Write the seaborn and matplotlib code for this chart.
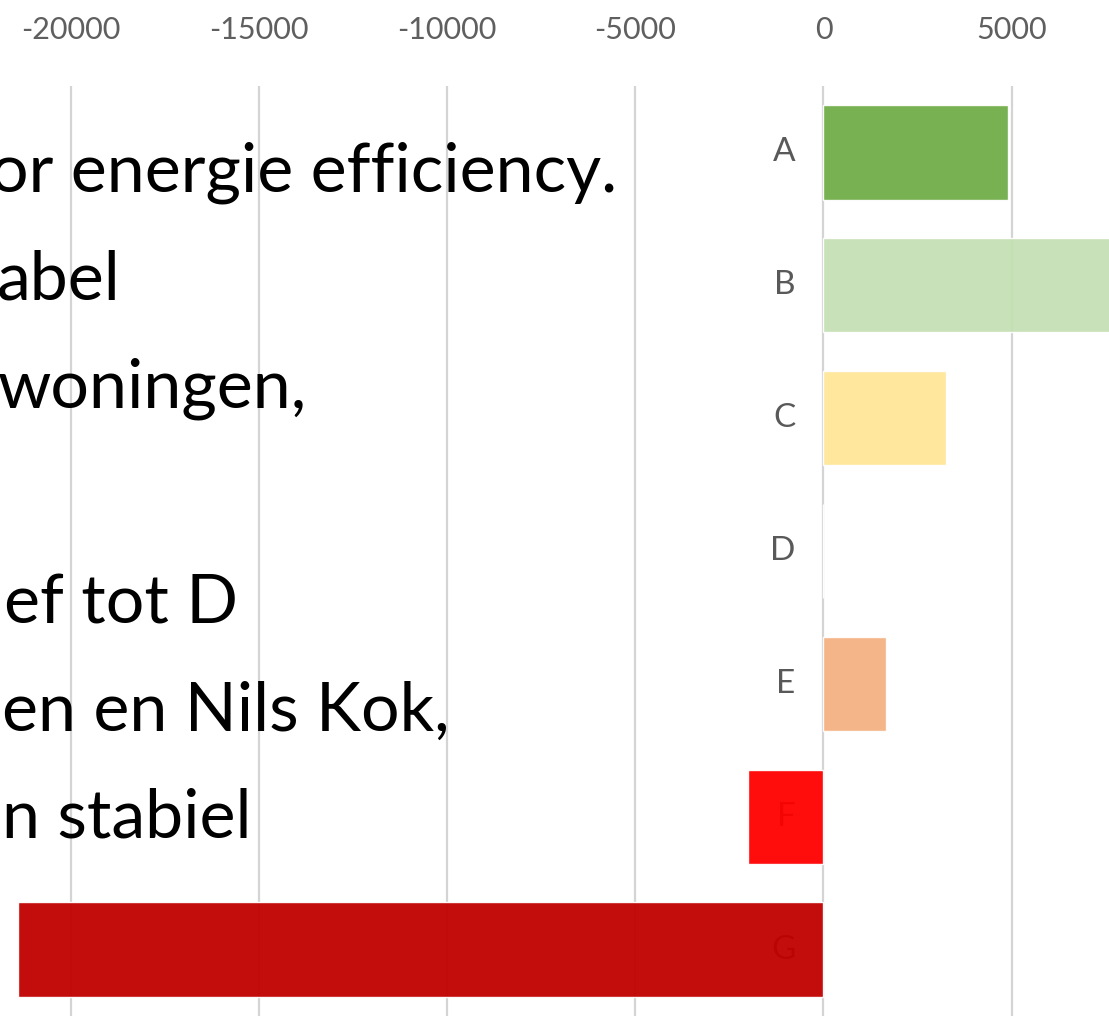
import matplotlib
matplotlib.use("Agg")
import matplotlib.pyplot as plt
from matplotlib import font_manager
import pandas as pd
import seaborn as sns

# Change in number of dwellings per energy label
labels = ["A", "B", "C", "D", "E", "F", "G"]
change = [4900, 8600, 3250, 0, 1650, -2000, -21400]
bar_colors = ["#70AD47", "#C5E0B4", "#FFE699", "#FFD966", "#F4B183", "#FF0000", "#C00000"]

tick_values = [-20000, -15000, -10000, -5000, 0, 5000]
tick_labels = ["-20000", "-15000", "-10000", "-5000", "0", "5000"]

# Slide text lying over the chart (left side runs off the slide)
slide_lines = ["or energie efficiency.", "abel", "woningen,", "ef tot D", "en en Nils Kok,", "n stabiel"]
line_x_px = [-10, -3, -2, 4, 2, 2]
line_base_px = [192, 300, 408, 623, 731, 838]

sns.set_theme(style="white")
installed = {f.name for f in font_manager.fontManager.ttflist}
narrow = "Liberation Sans Narrow" in installed
base_family = "Liberation Sans Narrow" if narrow else "Lato"
plt.rcParams["font.family"] = [base_family, "DejaVu Sans"]
plt.rcParams["axes.unicode_minus"] = False

W, H = 1109, 1016
fig = plt.figure(figsize=(W / 100, H / 100), dpi=100)
fig.patch.set_facecolor("white")
top_px = 86
ax = fig.add_axes([0, 0, 1, (H - top_px) / H])
ax.set_facecolor("white")

df = pd.DataFrame({"label": labels, "change": change})
sns.barplot(data=df, x="change", y="label", hue="label", palette=bar_colors,
            orient="h", width=0.71, saturation=1, legend=False, alpha=0.95,
            zorder=2, ax=ax)

ax.set_xlim(-21890, 7590)
ax.set_ylim(6.5, -0.5)

ax.xaxis.tick_top()
ax.set_xticks(tick_values, tick_labels)
ax.tick_params(axis="x", length=0, pad=30, labelsize=22, labelcolor="#5f5f5f",
               top=True, labeltop=True, bottom=False, labelbottom=False)
ax.set_yticks([])
ax.set_xlabel("")
ax.set_ylabel("")
ax.set_axisbelow(True)
ax.grid(axis="x", color="#d4d4d4", linewidth=1.6)
ax.grid(axis="y", visible=False)
for sp in ax.spines.values():
    sp.set_visible(False)

# Category labels sit just left of the zero line, beneath the bars
for i, lab in enumerate(labels):
    ax.annotate(lab, xy=(0, i), xytext=(-20, 0), textcoords="offset points",
                ha="right", va="center", fontsize=24, color="#595959", zorder=1.5)

text_size = 58 if narrow else 49
for txt, xp, bp in zip(slide_lines, line_x_px, line_base_px):
    fig.text(xp / W, 1 - bp / H, txt, fontsize=text_size, color="black",
             ha="left", va="baseline", zorder=5)

fig.savefig("out.png", dpi=100, facecolor="white")
